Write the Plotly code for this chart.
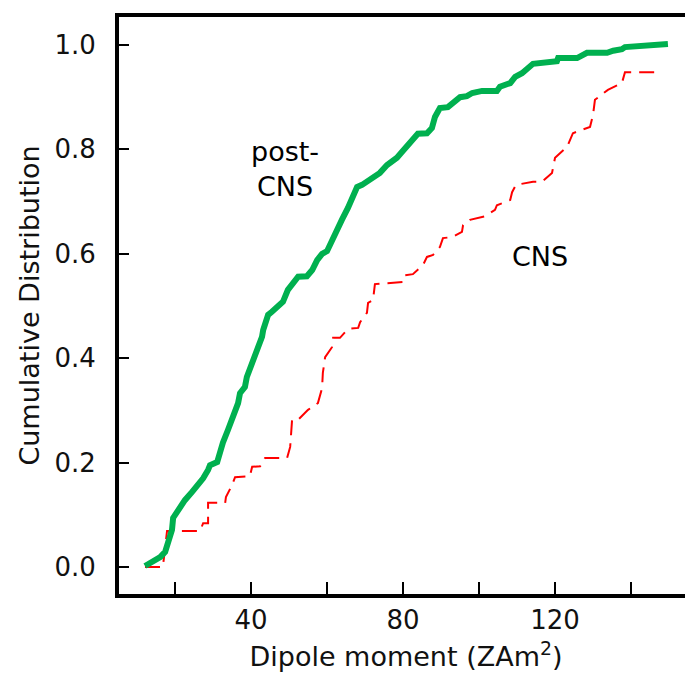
import plotly.graph_objects as go

# post-CNS cumulative distribution (green)
post_x = [12.1, 16.1, 17.4, 18.2, 19.2, 19.5, 20.8, 22.6, 24.5, 26.1, 27.4, 28.7, 29.2, 31.1, 31.8,
          32.6, 33.9, 35.3, 36.6, 37.1, 38.4, 38.9, 40.5, 41.8, 42.9, 43.2, 44.5, 45.5, 47.1, 48.4,
          49.7, 50.8, 52.4, 54.7, 56.1, 57.4, 58.7, 60.0, 61.6, 63.9, 65.5, 66.8, 67.9, 69.2, 71.3,
          73.9, 75.8, 78.4, 79.7, 81.8, 83.9, 86.3, 87.6, 88.4, 89.7, 91.8, 93.7, 95.0, 96.8, 98.2,
          100.8, 104.7, 105.5, 108.2, 109.5, 111.3, 114.2, 117.9, 120.5, 120.8, 125.8, 128.4, 133.7,
          135.3, 137.6, 138.4, 141.6, 145.8, 149.7]
post_y = [0.002, 0.019, 0.029, 0.048, 0.071, 0.094, 0.109, 0.128, 0.144, 0.157, 0.170, 0.186, 0.195,
          0.201, 0.224, 0.238, 0.262, 0.287, 0.314, 0.333, 0.345, 0.364, 0.397, 0.416, 0.441, 0.454,
          0.483, 0.489, 0.498, 0.508, 0.531, 0.540, 0.556, 0.557, 0.569, 0.588, 0.600, 0.605, 0.632,
          0.665, 0.688, 0.707, 0.728, 0.732, 0.741, 0.755, 0.770, 0.784, 0.795, 0.812, 0.830, 0.831,
          0.841, 0.862, 0.879, 0.881, 0.891, 0.900, 0.902, 0.908, 0.912, 0.912, 0.920, 0.927, 0.939,
          0.946, 0.964, 0.967, 0.969, 0.975, 0.975, 0.985, 0.985, 0.989, 0.992, 0.996, 0.998, 1.000,
          1.002]

# CNS cumulative distribution (red dashed)
cns_x = [12.1, 16.8, 17.9, 26.6, 27.4, 28.7, 28.7, 33.2, 33.4, 35.0, 35.8, 39.7, 40.3, 42.4, 43.7,
         49.5, 50.3, 50.8, 52.4, 55.0, 57.6, 58.7, 58.9, 59.5, 61.3, 61.6, 63.4, 65.5, 68.2, 68.7,
         70.5, 70.8, 72.1, 72.6, 80.0, 80.5, 82.6, 85.3, 86.3, 87.9, 89.7, 90.5, 92.9, 95.5, 95.8,
         97.6, 101.6, 104.2, 104.7, 108.2, 108.7, 109.7, 114.2, 116.6, 119.2, 120.0, 123.2, 124.7,
         129.2, 130.0, 130.5, 133.9, 137.6, 138.4, 147.6]
cns_y = [0.000, 0.000, 0.069, 0.069, 0.084, 0.084, 0.123, 0.123, 0.134, 0.157, 0.172, 0.174, 0.192,
         0.193, 0.209, 0.209, 0.230, 0.282, 0.282, 0.301, 0.314, 0.343, 0.372, 0.402, 0.421, 0.439,
         0.439, 0.456, 0.458, 0.469, 0.487, 0.506, 0.511, 0.542, 0.546, 0.559, 0.561, 0.579, 0.594,
         0.598, 0.613, 0.630, 0.632, 0.642, 0.655, 0.665, 0.672, 0.684, 0.693, 0.703, 0.718, 0.732,
         0.738, 0.738, 0.755, 0.784, 0.805, 0.831, 0.843, 0.866, 0.895, 0.914, 0.927, 0.948, 0.948]

x_tick_vals = [40, 80, 120]
x_tick_text = ["40", "80", "120"]
y_tick_vals = [0.0, 0.2, 0.4, 0.6, 0.8, 1.0]
y_tick_text = ["0.0", "0.2", "0.4", "0.6", "0.8", "1.0"]

fig = go.Figure()
fig.add_trace(go.Scatter(x=cns_x, y=cns_y, mode="lines",
                         line=dict(color="#ff0000", width=2, dash="15px,8px"),
                         showlegend=False))
fig.add_trace(go.Scatter(x=post_x, y=post_y, mode="lines",
                         line=dict(color="#00b04f", width=6),
                         showlegend=False))

tick_font = dict(family="DejaVu Sans", size=26, color="#111111")
title_font = dict(family="DejaVu Sans", size=27, color="#111111")

fig.update_xaxes(range=[5.26, 156.3], tickvals=x_tick_vals, ticktext=x_tick_text,
                 ticks="inside", ticklen=12, tickwidth=2, tickcolor="black",
                 minor=dict(tick0=0, dtick=20, ticks="inside", ticklen=12, tickwidth=2,
                            tickcolor="black", showgrid=False),
                 showline=True, linewidth=4, linecolor="black", mirror=True,
                 showgrid=False, zeroline=False, tickfont=tick_font, automargin=False,
                 title=dict(text="Dipole moment (ZAm<sup>2</sup>)", font=title_font,
                            standoff=14))
fig.update_yaxes(range=[-0.0517, 1.0536], tickvals=y_tick_vals, ticktext=y_tick_text,
                 ticks="inside", ticklen=10, tickwidth=2, tickcolor="black",
                 showline=True, linewidth=4, linecolor="black", mirror=False,
                 showgrid=False, zeroline=False, tickfont=tick_font, automargin=False,
                 ticklabelstandoff=14,
                 title=dict(text="Cumulative Distribution", font=title_font, standoff=8))

fig.add_annotation(x=48.9, y=0.762, text="post-<br>CNS", showarrow=False,
                   font=dict(family="DejaVu Sans", size=27, color="black"), align="center")
fig.add_annotation(x=116.1, y=0.594, text="CNS", showarrow=False,
                   font=dict(family="DejaVu Sans", size=27, color="black"))

# page body has an 8px default margin, so the figure is sized/offset to compensate
fig.update_layout(width=685, height=671, plot_bgcolor="white", paper_bgcolor="white",
                  margin=dict(l=111, r=0, t=9, b=85))

fig.write_html("out.html")
